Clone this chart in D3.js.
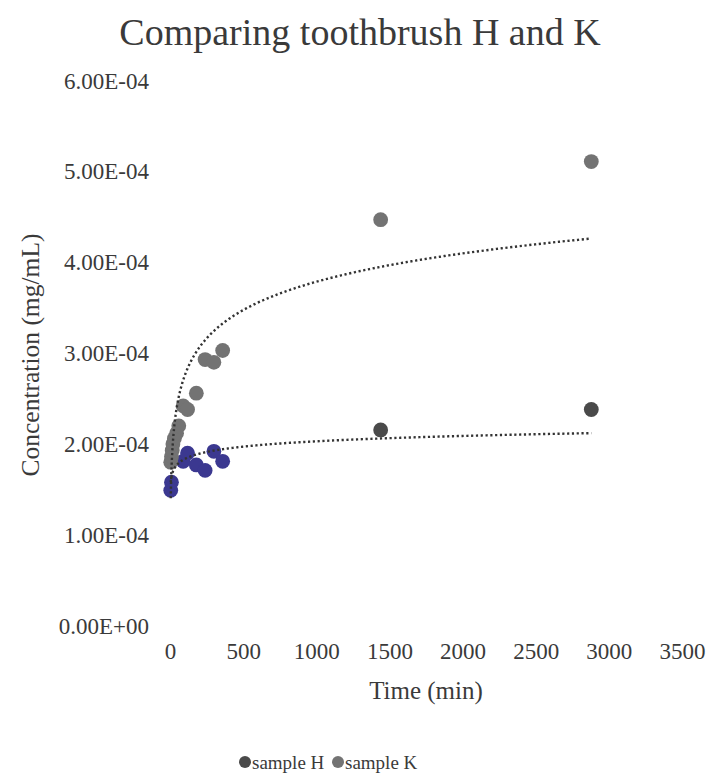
<!DOCTYPE html>
<html>
<head>
<meta charset="utf-8">
<script src="https://cdn.jsdelivr.net/npm/d3@7"></script>
<style>
  html, body { margin: 0; padding: 0; background: #ffffff; }
  svg { display: block; }
  text { font-family: "Liberation Serif", "Times New Roman", serif; fill: #3a3a3a; }
</style>
</head>
<body>
<svg id="chart" width="719" height="782"></svg>
<script>
// ---- data ----
const seriesNames = ["sample H", "sample K"];
const timesH = [5, 10, 90, 120, 180, 240, 300, 360, 1440, 2880];
const concH  = [1.49e-4, 1.58e-4, 1.81e-4, 1.90e-4, 1.77e-4, 1.71e-4, 1.92e-4, 1.81e-4, 2.155e-4, 2.38e-4];
const timesK = [5, 10, 15, 20, 30, 45, 60, 90, 120, 180, 240, 300, 360, 1440, 2880];
const concK  = [1.80e-4, 1.86e-4, 1.93e-4, 2.00e-4, 2.06e-4, 2.12e-4, 2.20e-4, 2.42e-4, 2.38e-4, 2.56e-4, 2.93e-4, 2.90e-4, 3.03e-4, 4.47e-4, 5.11e-4];
// logarithmic trendlines  y = a*ln(x) + b
const trendH = [0.085e-4, 1.443e-4];
const trendK = [0.45e-4, 0.678e-4];
const xTicks = [0, 500, 1000, 1500, 2000, 2500, 3000, 3500];
const yTicks = [0, 1e-4, 2e-4, 3e-4, 4e-4, 5e-4, 6e-4];
const titleText = "Comparing toothbrush H and K";
const xTitle = "Time (min)";
const yTitle = "Concentration (mg/mL)";

// ---- layout ----
const svg = d3.select("#chart");
const x = d3.scaleLinear().domain([0, 3500]).range([170, 682]);
const y = d3.scaleLinear().domain([0, 6e-4]).range([625.7, 80.7]);

const colH = "#3b3890", colHfar = "#4a4a4a", colK = "#737373";

function fmtE(v) {
  let s = v.toExponential(2).toUpperCase();     // 6.00E-4
  return s.replace(/E([+-])(\d)$/, "E$10$2");
}

// axes (no lines, only labels)
const yAxis = d3.axisLeft(y).tickValues(yTicks).tickFormat(fmtE).tickSize(0).tickPadding(0);
const gy = svg.append("g").attr("transform", "translate(149,0)").call(yAxis);
gy.select(".domain").remove();
gy.selectAll("text").attr("font-size", 23).attr("font-family", "Liberation Serif").attr("fill", "#3a3a3a");

const xAxis = d3.axisBottom(x).tickValues(xTicks).tickFormat(d3.format("d")).tickSize(0).tickPadding(0);
const gx = svg.append("g").attr("transform", "translate(0,643)").call(xAxis);
gx.select(".domain").remove();
gx.selectAll("text").attr("font-size", 23).attr("font-family", "Liberation Serif").attr("fill", "#3a3a3a");

// titles
svg.append("text").attr("x", 360).attr("y", 45).attr("text-anchor", "middle")
  .attr("font-size", 38).text(titleText);
svg.append("text").attr("x", 426).attr("y", 699).attr("text-anchor", "middle")
  .attr("font-size", 25).text(xTitle);
svg.append("text").attr("transform", "translate(39,355) rotate(-90)").attr("text-anchor", "middle")
  .attr("font-size", 25.5).text(yTitle);

// points
const dataH = timesH.map((t, i) => ({ t, v: concH[i] }));
const dataK = timesK.map((t, i) => ({ t, v: concK[i] }));

svg.append("g").selectAll("circle").data(dataH).join("circle")
  .attr("cx", d => x(d.t)).attr("cy", d => y(d.v)).attr("r", 7.4)
  .attr("fill", d => d.t < 1000 ? colH : colHfar);
svg.append("g").selectAll("circle").data(dataK).join("circle")
  .attr("cx", d => x(d.t)).attr("cy", d => y(d.v)).attr("r", 7.4)
  .attr("fill", colK);

// trendlines
function trendPts(times, coef) {
  const t0 = d3.min(times), t1 = d3.max(times);
  const pts = [];
  for (let i = 0; i <= 400; i++) {
    const t = Math.exp(Math.log(t0) + (Math.log(t1) - Math.log(t0)) * i / 400);
    pts.push([t, coef[0] * Math.log(t) + coef[1]]);
  }
  return pts;
}
const line = d3.line().x(d => x(d[0])).y(d => y(d[1]));
[[timesH, trendH], [timesK, trendK]].forEach(([ts, c]) => {
  svg.append("path").attr("d", line(trendPts(ts, c)))
    .attr("fill", "none").attr("stroke", "#333").attr("stroke-width", 2.4)
    .attr("stroke-dasharray", "2.2,2.6");
});

// legend
const leg = svg.append("g");
[[245, colHfar, seriesNames[0]], [338, colK, seriesNames[1]]].forEach(([lx, c, name]) => {
  leg.append("circle").attr("cx", lx).attr("cy", 762).attr("r", 6).attr("fill", c);
  leg.append("text").attr("x", lx + 7).attr("y", 769).attr("font-size", 19).text(name);
});
</script>
</body>
</html>
